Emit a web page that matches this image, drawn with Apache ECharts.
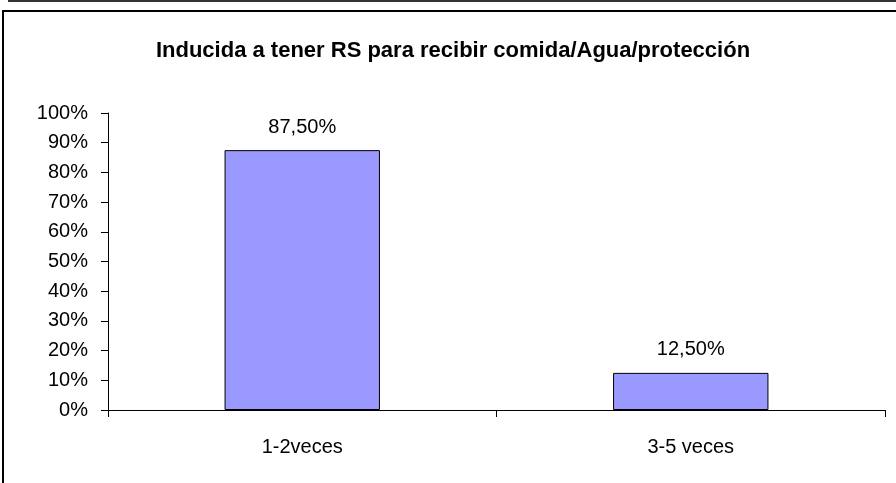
<!DOCTYPE html>
<html>
<head>
<meta charset="utf-8">
<script src="https://cdn.jsdelivr.net/npm/echarts@6/dist/echarts.min.js"></script>
<style>
html,body{margin:0;padding:0;background:#fff;}
#c{width:896px;height:483px;}
</style>
</head>
<body>
<div id="c"></div>
<script>
const title = 'Inducida a tener RS para recibir comida/Agua/protección';
const categories = ['1-2veces', '3-5 veces'];
const values = [0.875, 0.125];
const yTicks = [0, 0.1, 0.2, 0.3, 0.4, 0.5, 0.6, 0.7, 0.8, 0.9, 1.0];

const chart = echarts.init(document.getElementById('c'));
const font = 'Liberation Sans, Arial, sans-serif';
chart.setOption({
  animation: false,
  backgroundColor: '#fff',
  title: {
    text: title,
    left: 448, top: 35, textAlign: 'center',
    textStyle: {fontFamily: font, fontSize: 22, fontWeight: 'bold', color: '#000'}
  },
  graphic: [
    {type: 'line', shape: {x1: 8, y1: 1, x2: 896, y2: 1}, style: {stroke: '#333', lineWidth: 2}},
    {type: 'line', shape: {x1: 3, y1: 11, x2: 896, y2: 11}, style: {stroke: '#000', lineWidth: 2}},
    {type: 'line', shape: {x1: 3, y1: 10, x2: 3, y2: 483}, style: {stroke: '#000', lineWidth: 2}}
  ],
  grid: {left: 108, right: 11, top: 113, bottom: 73},
  xAxis: {
    type: 'category',
    data: categories,
    axisLine: {show: true, lineStyle: {color: '#000', width: 1}},
    axisTick: {show: true, length: 7, lineStyle: {color: '#000'}},
    axisLabel: {fontFamily: font, fontSize: 20, color: '#000', margin: 27}
  },
  yAxis: {
    type: 'value',
    min: 0, max: 1, interval: 0.1,
    axisLine: {show: true, lineStyle: {color: '#000', width: 1}},
    axisTick: {show: true, length: 7, lineStyle: {color: '#000'}},
    splitLine: {show: false},
    axisLabel: {
      fontFamily: font, fontSize: 20, color: '#000', margin: 20,
      formatter: v => Math.round(v * 100) + '%'
    }
  },
  series: [{
    type: 'bar',
    data: values,
    barWidth: '40%',
    itemStyle: {color: '#9999FF', borderColor: '#000', borderWidth: 1},
    label: {
      show: true, position: 'top', distance: 13,
      fontFamily: font, fontSize: 20, color: '#000',
      formatter: p => (p.value * 100).toFixed(2).replace('.', ',') + '%'
    }
  }]
});
</script>
</body>
</html>
